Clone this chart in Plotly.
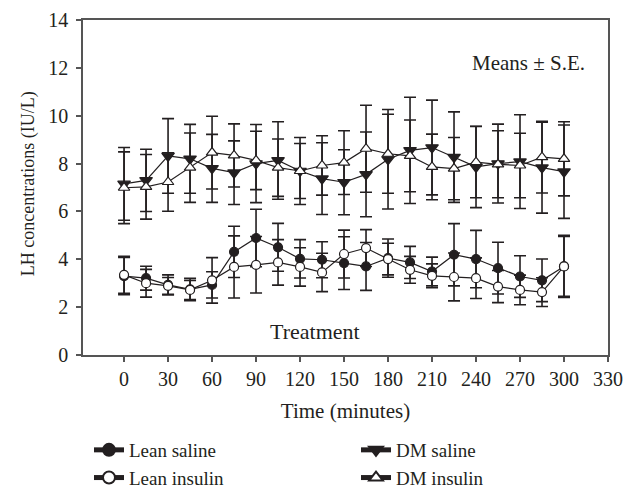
import plotly.graph_objects as go

time_min = [0, 15, 30, 45, 60, 75, 90, 105, 120, 135, 150, 165, 180, 195, 210, 225, 240, 255, 270, 285, 300]

lean_saline = [3.30, 3.21, 2.93, 2.74, 2.93, 4.31, 4.89, 4.50, 4.02, 3.98, 3.84, 3.70, 4.05, 3.87, 3.49, 4.19, 4.01, 3.63, 3.28, 3.12, 3.70]
lean_saline_se = [0.78, 0.50, 0.42, 0.47, 0.55, 1.07, 1.20, 1.00, 0.80, 0.75, 1.10, 1.00, 0.80, 0.67, 0.60, 1.30, 1.20, 1.08, 0.87, 0.89, 1.30]

lean_insulin = [3.35, 3.00, 2.89, 2.72, 3.12, 3.68, 3.77, 3.87, 3.68, 3.45, 4.22, 4.47, 4.01, 3.56, 3.31, 3.26, 3.21, 2.86, 2.72, 2.63, 3.70]
lean_insulin_se = [0.77, 0.58, 0.35, 0.40, 0.95, 1.30, 1.18, 0.95, 0.80, 0.80, 1.00, 0.77, 0.66, 0.56, 0.50, 1.00, 0.85, 0.67, 0.62, 0.60, 1.25]

dm_saline = [7.15, 7.30, 8.32, 8.20, 7.80, 7.62, 8.00, 8.13, 7.69, 7.37, 7.22, 7.55, 8.18, 8.55, 8.67, 8.27, 7.86, 8.00, 8.08, 7.83, 7.66]
dm_saline_se = [1.52, 1.30, 1.56, 1.44, 1.42, 1.33, 1.63, 1.62, 1.40, 1.50, 1.36, 1.77, 2.08, 2.22, 1.98, 1.89, 1.70, 1.65, 1.96, 1.90, 1.95]

dm_insulin = [6.99, 7.03, 7.23, 7.83, 8.46, 8.34, 8.13, 7.83, 7.69, 7.92, 8.04, 8.62, 8.41, 8.32, 7.86, 7.79, 8.06, 7.97, 7.92, 8.27, 8.20]
dm_insulin_se = [1.50, 1.35, 1.22, 1.45, 1.52, 1.32, 1.22, 1.20, 1.15, 1.24, 1.33, 1.82, 1.65, 1.50, 1.37, 1.30, 1.49, 1.40, 1.35, 1.50, 1.55]

x_ticks = list(range(0, 331, 30))
y_ticks = list(range(0, 15, 2))

FONT = "Liberation Serif"
INK = "#231f20"
AX = "#555555"

W, H = 626, 491

# name, values, se, symbol, fill, size, legend id
series = [
    ("Lean saline", lean_saline, lean_saline_se, "circle", INK, 9, "legend"),
    ("DM saline", dm_saline, dm_saline_se, "triangle-down", INK, 11, "legend2"),
    ("Lean insulin", lean_insulin, lean_insulin_se, "circle", "white", 9, "legend"),
    ("DM insulin", dm_insulin, dm_insulin_se, "triangle-up", "white", 10, "legend2"),
]

fig = go.Figure()
for name, vals, se, sym, fill, size, leg in series:
    fig.add_trace(go.Scatter(
        x=time_min, y=vals, name=name, mode="lines+markers", legend=leg,
        line=dict(color=INK, width=1.2),
        marker=dict(symbol=sym, size=size, color=fill, line=dict(color=INK, width=1.2)),
        error_y=dict(type="data", array=se, visible=True, color=INK, thickness=1.6, width=6),
    ))

fig.add_annotation(x=276, y=12.2, text="Means ± S.E.", showarrow=False,
                   xanchor="center", yanchor="middle", font=dict(family=FONT, size=21, color=INK))
fig.add_annotation(x=130, y=1.0, text="Treatment", showarrow=False,
                   xanchor="center", yanchor="middle", font=dict(family=FONT, size=22, color=INK))
# y-axis title
fig.add_annotation(xref="paper", yref="paper", x=0, y=0.51, xshift=-55, textangle=-90,
                   text="LH concentrations (IU/L)", showarrow=False,
                   xanchor="center", yanchor="middle", font=dict(family=FONT, size=18, color=INK))

leg_common = dict(orientation="v", xref="container", yref="container",
                  xanchor="left", yanchor="top", tracegroupgap=0,
                  font=dict(family=FONT, size=19, color=INK),
                  bgcolor="rgba(0,0,0,0)", borderwidth=0, itemsizing="constant")

fig.update_layout(
    width=W, height=H,
    margin=dict(l=83, r=18, t=20, b=136, autoexpand=False),
    plot_bgcolor="white", paper_bgcolor="white",
    font=dict(family=FONT, size=20, color=INK),
    showlegend=True,
    legend=dict(x=89 / W, y=1 - 431 / H, **leg_common),
    legend2=dict(x=356 / W, y=1 - 431 / H, **leg_common),
    xaxis=dict(range=[-28, 330], tickvals=x_ticks, ticks="outside", ticklen=5,
               tickcolor=AX, tickwidth=1.5, showline=True, linecolor=AX, linewidth=1.5,
               mirror=True, showgrid=False, zeroline=False,
               title=dict(text="Time (minutes)", font=dict(family=FONT, size=21), standoff=15),
               tickfont=dict(family=FONT, size=20)),
    yaxis=dict(range=[0, 14], tickvals=y_ticks, ticks="outside", ticklen=5,
               tickcolor=AX, tickwidth=1.5, showline=True, linecolor=AX, linewidth=1.5,
               mirror=True, showgrid=False, zeroline=False,
               ticklabelstandoff=4,
               tickfont=dict(family=FONT, size=20)),
)

fig.write_html("out.html", config={"displayModeBar": False},
               post_script="document.body.style.margin='0';")
